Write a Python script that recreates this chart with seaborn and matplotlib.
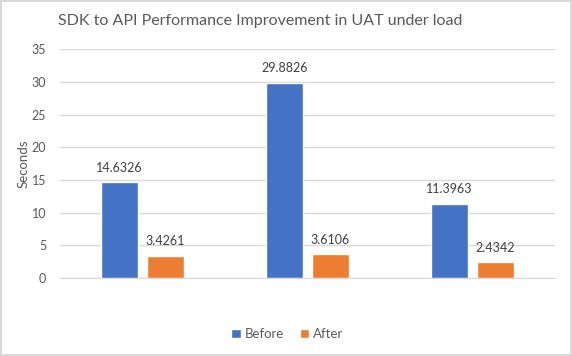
import pandas as pd
import seaborn as sns
import matplotlib.pyplot as plt

# chart data
tests = ["Test 1", "Test 2", "Test 3"]
before = [14.6326, 29.8826, 11.3963]
after = [3.4261, 3.6106, 2.4342]
series = ["Before", "After"]
colors = ["#4472C4", "#ED7D31"]
y_ticks = [0, 5, 10, 15, 20, 25, 30, 35]

df = pd.DataFrame({
    "test": tests * 2,
    "seconds": before + after,
    "series": [series[0]] * 3 + [series[1]] * 3,
})

sns.set_style("white")
plt.rcParams["font.family"] = ["Lato", "DejaVu Sans"]

fig = plt.figure(figsize=(5.72, 3.56), dpi=100)
fig.patch.set_edgecolor("#D9D9D9")
fig.patch.set_linewidth(1.5)
ax = fig.add_axes([0.105, 0.219, 0.865, 0.643])

sns.barplot(data=df, x="test", y="seconds", hue="series", hue_order=series,
            palette=colors, width=0.56, gap=0.2, saturation=1, ax=ax)

# data labels on top of bars
for cont in ax.containers:
    ax.bar_label(cont, labels=["{:.4f}".format(v) for v in cont.datavalues],
                 padding=6, fontsize=9, color="#404040")

ax.set_ylim(0, 35)
ax.set_xlim(-0.5, 2.5)
ax.set_yticks(y_ticks)
ax.set_xticks([])
ax.set_xlabel("")
ax.set_ylabel("Seconds", fontsize=9.5, color="#595959")
ax.yaxis.set_label_coords(-0.062, 0.5)
ax.tick_params(axis="y", labelsize=9, labelcolor="#595959", length=0, pad=10)
ax.grid(axis="y", color="#D9D9D9", linewidth=1)
ax.set_axisbelow(True)
for s in ["top", "right", "left"]:
    ax.spines[s].set_visible(False)
ax.spines["bottom"].set_color("#D9D9D9")

fig.suptitle("SDK to API Performance Improvement in UAT under load",
             x=0.455, y=0.962, fontsize=11.5, color="#595959")

ax.legend_.remove()
handles, labels = ax.get_legend_handles_labels()
fig.legend(handles, labels, loc="center", bbox_to_anchor=(0.502, 0.062), ncol=2,
           frameon=False, fontsize=9.5, labelcolor="#595959", handlelength=0.7,
           handleheight=0.7, handletextpad=0.3, columnspacing=1.2)

plt.savefig("out.png", dpi=100)
